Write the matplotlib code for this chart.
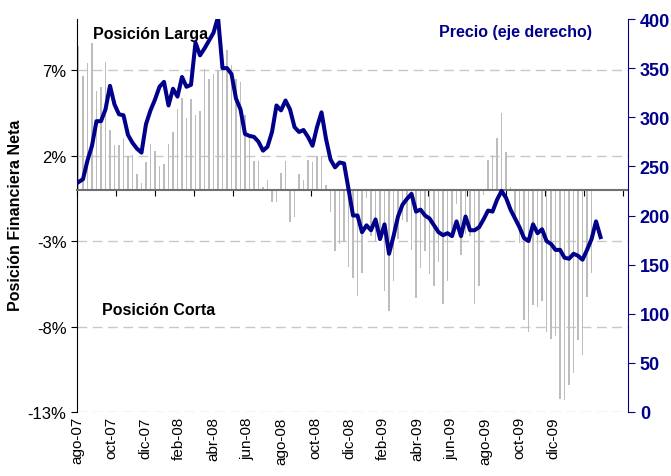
import numpy as np
import matplotlib.pyplot as plt

plt.rcParams['font.family'] = ['Liberation Sans', 'DejaVu Sans']

# precio semanal (eje derecho)
precio = [234, 237, 256, 271, 296, 296, 308, 332, 313, 303,
          302, 282, 274, 268, 264, 293, 307, 318, 331, 336,
          312, 329, 321, 341, 331, 333, 376, 363, 370, 378,
          386, 402, 350, 350, 344, 319, 308, 283, 281, 280,
          275, 266, 270, 285, 312, 307, 317, 308, 290, 285,
          287, 280, 271, 290, 305, 278, 257, 249, 254, 253,
          227, 200, 200, 183, 190, 185, 196, 176, 191, 161,
          179, 199, 211, 217, 222, 204, 206, 200, 197, 190,
          183, 180, 182, 179, 194, 179, 199, 185, 185, 188,
          196, 205, 204, 216, 225, 218, 206, 197, 188, 177,
          174, 191, 182, 186, 174, 171, 165, 165, 157, 156,
          161, 159, 155, 165, 176, 194, 178]

# posicion financiera neta semanal (%)
posicion = [8.4, 6.65, 7.4, 8.6, 5.8, 6.0, 7.5, 3.5, 2.65, 2.65,
            3.05, 2.0, 2.05, 0.9, 0.4, 1.65, 2.7, 2.3, 1.4, 1.5,
            2.7, 3.4, 4.75, 5.4, 4.2, 5.3, 4.4, 4.6, 7.1, 6.5,
            6.8, 7.0, 7.4, 8.2, 7.3, 6.5, 6.3, 4.4, 3.1, 1.7,
            1.7, 0.15, 0.55, -0.7, -0.7, 1.0, 1.7, -1.9, -1.6, 0.95,
            0.6, 1.75, 1.65, 2.0, 2.0, 0.3, -1.3, -3.6, -3.15, -3.05,
            -4.5, -5.15, -6.2, -4.85, -0.5, -2.7, -3.0, -3.0, -5.9, -7.1,
            -5.35, -2.9, -1.75, -1.9, -3.5, -6.3, -4.55, -3.6, -4.95, -5.6,
            -4.2, -6.7, -5.35, -2.7, -0.85, -3.8, -2.6, -2.7, -6.7, -5.65,
            -0.3, 1.75, 2.05, 3.05, 4.5, 2.2, 0.15, -1.5, -3.1, -7.6,
            -8.3, -6.75, -6.85, -6.5, -8.3, -8.75, -8.55, -12.25, -12.3, -11.4,
            -10.7, -8.8, -9.65, -6.25, -4.85]

meses = ['ago-07', 'oct-07', 'dic-07', 'feb-08', 'abr-08', 'jun-08', 'ago-08',
         'oct-08', 'dic-08', 'feb-09', 'abr-09', 'jun-09', 'ago-09', 'oct-09',
         'dic-09']

azul = '#00008b'

fig = plt.figure(figsize=(6.71, 4.77), dpi=100)
ax = fig.add_axes([77/671, 64/477, 551/671, 393/477])
ax2 = ax.twinx()

# barras de posicion
ax.bar(np.arange(len(posicion)), posicion, width=0.3, color='#bdbdbd', zorder=2)
ax.set_ylim(-13, 10)
ax.set_yticks([7, 2, -3, -8, -13])
ax.set_yticklabels(['7%', '2%', '-3%', '-8%', '-13%'], fontsize=12)
ax.grid(axis='y', color='#c8c8c8', linestyle=(0, (7, 4)), lw=1)
ax.set_axisbelow(True)
ax.spines['bottom'].set_position(('data', 0))
ax.spines['bottom'].set_color('#707070')
ax.spines['bottom'].set_linewidth(1.5)
ax.spines['top'].set_visible(False)
ax.spines['right'].set_visible(False)
ax.set_xlim(-0.33, 122.1)
ax.set_xticks(np.arange(-0.33, 122, 8.67))
ax.tick_params(axis='x', length=4, labelbottom=False, color='black')
ax.tick_params(axis='y', length=4)

# etiquetas de meses abajo
sec = ax.secondary_xaxis(0)
sec.set_xticks(np.arange(len(meses)) * 7.556 - 0.33, labels=meses)
sec.tick_params(length=0, rotation=90, labelsize=11, pad=3)
sec.spines['bottom'].set_visible(False)

# precio
ax2.plot(np.arange(len(precio)), precio, color=azul, lw=2.9, solid_joinstyle='round')
ax2.set_ylim(0, 400)
ax2.set_yticks(range(0, 401, 50))
for lab in ax2.get_yticklabels():
    lab.set_fontweight('bold')
ax2.tick_params(axis='y', colors=azul, labelsize=13, length=5)
ax2.spines['right'].set_color(azul)
for s in ['left', 'top', 'bottom']:
    ax2.spines[s].set_visible(False)

ax.text(0.029, 0.962, 'Posición Larga', transform=ax.transAxes, fontsize=11.5,
        fontweight='bold', va='center', zorder=5)
ax.text(0.045, 0.26, 'Posición Corta', transform=ax.transAxes, fontsize=11.5,
        fontweight='bold', va='center')
ax2.text(0.935, 0.969, 'Precio (eje derecho)', transform=ax2.transAxes, fontsize=11.5,
         fontweight='bold', color=azul, ha='right', va='center')
fig.text(16/671, 1 - 215/477, 'Posición Financiera Neta', rotation=90, fontsize=11.5,
         fontweight='bold', ha='center', va='center')

fig.savefig('out.png', dpi=100)
